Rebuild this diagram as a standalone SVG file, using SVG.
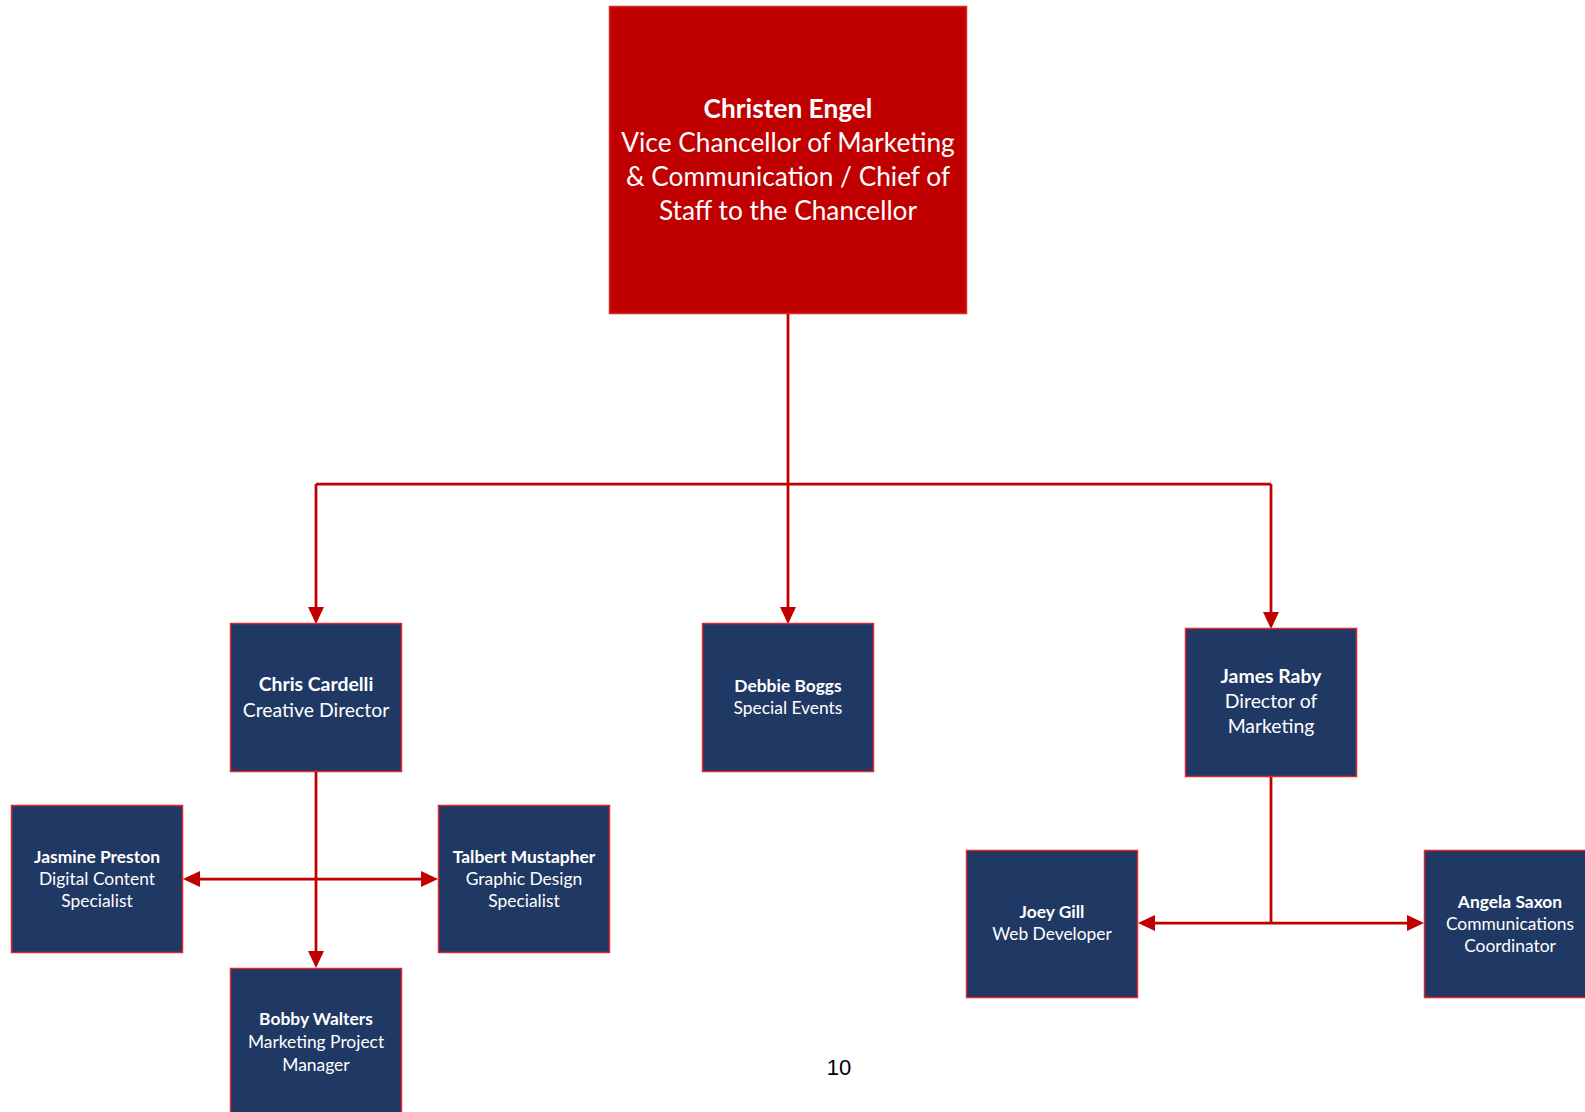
<svg xmlns="http://www.w3.org/2000/svg" width="1585" height="1112" viewBox="0 0 1585 1112">
<defs>
<marker id="ah" markerUnits="userSpaceOnUse" markerWidth="17" markerHeight="16" viewBox="0 0 17 16" refX="9" refY="8" orient="auto">
<path d="M0,0 L17,8 L0,16 Z" fill="#C00000"/>
</marker>
<style>
.box{fill:#1F3864;stroke:#E0262E;stroke-width:1.5}
.top{fill:#C00000;stroke:#E0262E;stroke-width:1.5}
.ln{fill:none;stroke:#C00000;stroke-width:2.75}
.arr{fill:none;stroke:#C00000;stroke-width:2.75;marker-end:url(#ah)}
text{font-family:Lato,"Open Sans","Liberation Sans",sans-serif;fill:#FFFFFF;text-anchor:middle}
.b{font-weight:bold}
.t1{font-size:26.25px}
.t2{font-size:19.4px}
.t3{font-size:17.4px}
.pg{font-family:"Liberation Sans",Arial,sans-serif;fill:#000000;font-size:22px}
</style>
</defs>
<rect width="1585" height="1112" fill="#FFFFFF"/>
<g id="connectors">
<path class="ln" d="M788,314 V484 M316,484 H1271"/>
<path class="arr" d="M316,484 V616"/>
<path class="arr" d="M788,484 V616"/>
<path class="arr" d="M1271,484 V621"/>
<path class="arr" d="M316,772 V960"/>
<path class="arr" d="M316,879 H191"/>
<path class="arr" d="M316,879 H430"/>
<path class="ln" d="M1271,776 V923"/>
<path class="arr" d="M1271,923 H1146"/>
<path class="arr" d="M1271,923 H1416"/>
</g>
<g id="christen-engel">
<rect class="top" x="609.5" y="6.5" width="357" height="307"/>
<text class="t1" x="788"><tspan class="b" x="788" y="118">Christen Engel</tspan><tspan x="788" y="152">Vice Chancellor of Marketing</tspan><tspan x="788" y="186">&amp; Communication / Chief of</tspan><tspan x="788" y="220">Staff to the Chancellor</tspan></text>
</g>
<g id="chris-cardelli">
<rect class="box" x="230.5" y="623.5" width="171" height="148"/>
<text class="t2" x="316"><tspan class="b" x="316" y="691">Chris Cardelli</tspan><tspan x="316" y="717">Creative Director</tspan></text>
</g>
<g id="debbie-boggs">
<rect class="box" x="702.5" y="623.5" width="171" height="148"/>
<text class="t3" x="788"><tspan class="b" x="788" y="692">Debbie Boggs</tspan><tspan x="788" y="714">Special Events</tspan></text>
</g>
<g id="james-raby">
<rect class="box" x="1185.5" y="628.5" width="171" height="148"/>
<text class="t2" x="1271"><tspan class="b" x="1271" y="683">James Raby</tspan><tspan x="1271" y="708">Director of</tspan><tspan x="1271" y="733">Marketing</tspan></text>
</g>
<g id="jasmine-preston">
<rect class="box" x="11.5" y="805.5" width="171" height="147"/>
<text class="t3" x="97"><tspan class="b" x="97" y="863">Jasmine Preston</tspan><tspan x="97" y="885">Digital Content</tspan><tspan x="97" y="907">Specialist</tspan></text>
</g>
<g id="talbert-mustapher">
<rect class="box" x="438.5" y="805.5" width="171" height="147"/>
<text class="t3" x="524"><tspan class="b" x="524" y="863">Talbert Mustapher</tspan><tspan x="524" y="885">Graphic Design</tspan><tspan x="524" y="907">Specialist</tspan></text>
</g>
<g id="bobby-walters">
<rect class="box" x="230.5" y="968.5" width="171" height="150"/>
<text class="t3" x="316"><tspan class="b" x="316" y="1025">Bobby Walters</tspan><tspan x="316" y="1048">Marketing Project</tspan><tspan x="316" y="1071">Manager</tspan></text>
</g>
<g id="joey-gill">
<rect class="box" x="966.5" y="850.5" width="171" height="147"/>
<text class="t3" x="1052"><tspan class="b" x="1052" y="918">Joey Gill</tspan><tspan x="1052" y="940">Web Developer</tspan></text>
</g>
<g id="angela-saxon">
<rect class="box" x="1424.5" y="850.5" width="171" height="147"/>
<text class="t3" x="1510"><tspan class="b" x="1510" y="908">Angela Saxon</tspan><tspan x="1510" y="930">Communications</tspan><tspan x="1510" y="952">Coordinator</tspan></text>
</g>
<text class="pg" x="839" y="1075">10</text>
</svg>
